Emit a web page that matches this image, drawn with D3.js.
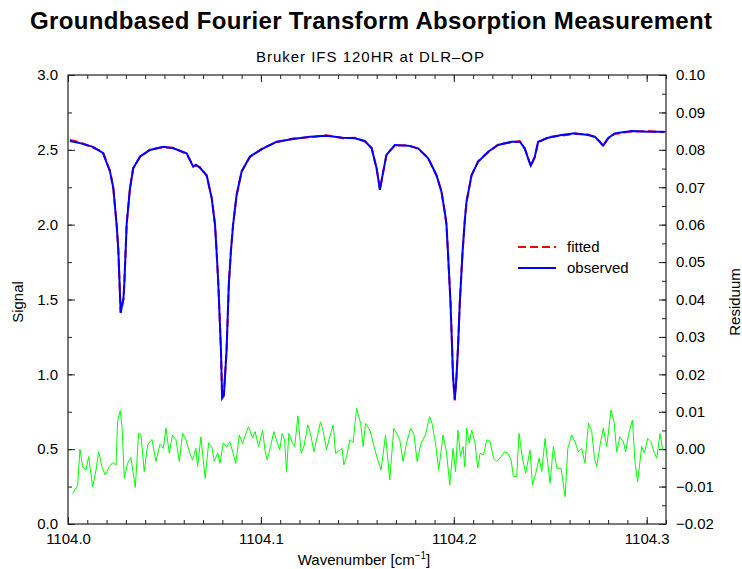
<!DOCTYPE html>
<html>
<head>
<meta charset="utf-8">
<script src="https://cdn.jsdelivr.net/npm/d3@7"></script>
<style>
  body { margin: 0; background: #fff; }
  text { font-family: "Liberation Sans", Arial, Helvetica, sans-serif; fill: #000; }
</style>
</head>
<body>
<svg id="chart"></svg>
<script>
// spectrum: wavenumber grid and the two signal curves
var specWn = [1104.0010, 1104.0062, 1104.0130, 1104.0181, 1104.0218, 1104.0235, 1104.0252, 1104.0261, 1104.0267, 1104.0273,
  1104.0280, 1104.0287, 1104.0292, 1104.0299, 1104.0304, 1104.0321, 1104.0338, 1104.0373, 1104.0425, 1104.0494,
  1104.0546, 1104.0615, 1104.0649, 1104.0663, 1104.0684, 1104.0719, 1104.0745, 1104.0762, 1104.0770, 1104.0779,
  1104.0793, 1104.0799, 1104.0808, 1104.0822, 1104.0834, 1104.0845, 1104.0856, 1104.0874, 1104.0900, 1104.0943,
  1104.1012, 1104.1081, 1104.1167, 1104.1254, 1104.1340, 1104.1426, 1104.1487, 1104.1539, 1104.1574, 1104.1600,
  1104.1617, 1104.1634, 1104.1651, 1104.1694, 1104.1763, 1104.1815, 1104.1867, 1104.1910, 1104.1936, 1104.1953,
  1104.1962, 1104.1970, 1104.1983, 1104.1991, 1104.1996, 1104.2005, 1104.2014, 1104.2022, 1104.2031, 1104.2045,
  1104.2057, 1104.2066, 1104.2092, 1104.2126, 1104.2178, 1104.2230, 1104.2299, 1104.2342, 1104.2368, 1104.2385,
  1104.2399, 1104.2420, 1104.2437, 1104.2489, 1104.2558, 1104.2627, 1104.2696, 1104.2731, 1104.2756, 1104.2774,
  1104.2799, 1104.2834, 1104.2921, 1104.3007, 1104.3093];

var observed = [2.559, 2.545, 2.520, 2.480, 2.354, 2.245, 2.000, 1.830, 1.620, 1.410,
  1.460, 1.497, 1.608, 1.830, 2.000, 2.240, 2.376, 2.455, 2.499, 2.521,
  2.510, 2.477, 2.387, 2.400, 2.380, 2.330, 2.176, 2.000, 1.830, 1.610,
  1.160, 0.840, 0.860, 1.160, 1.610, 1.830, 2.000, 2.198, 2.354, 2.455,
  2.510, 2.554, 2.572, 2.588, 2.594, 2.581, 2.577, 2.559, 2.510, 2.376,
  2.232, 2.354, 2.466, 2.532, 2.528, 2.510, 2.443, 2.332, 2.220, 2.087,
  2.000, 1.810, 1.477, 1.185, 0.985, 0.830, 0.985, 1.185, 1.477, 1.810,
  2.030, 2.153, 2.332, 2.420, 2.487, 2.532, 2.554, 2.554, 2.510, 2.443,
  2.394, 2.455, 2.554, 2.581, 2.599, 2.610, 2.599, 2.588, 2.554, 2.528,
  2.577, 2.610, 2.626, 2.621, 2.621];

var fitted = [2.566, 2.550, 2.514, 2.486, 2.360, 2.240, 2.006, 1.826, 1.615, 1.415,
  1.455, 1.502, 1.603, 1.835, 2.005, 2.236, 2.380, 2.450, 2.503, 2.517,
  2.514, 2.472, 2.392, 2.395, 2.385, 2.325, 2.181, 2.005, 1.826, 1.615,
  1.155, 0.845, 0.856, 1.165, 1.605, 1.835, 2.005, 2.194, 2.358, 2.451,
  2.514, 2.550, 2.576, 2.584, 2.598, 2.577, 2.581, 2.555, 2.514, 2.372,
  2.236, 2.350, 2.470, 2.528, 2.532, 2.506, 2.447, 2.328, 2.224, 2.083,
  2.004, 1.806, 1.481, 1.181, 0.989, 0.826, 0.989, 1.181, 1.481, 1.806,
  2.026, 2.157, 2.328, 2.424, 2.483, 2.536, 2.550, 2.558, 2.506, 2.447,
  2.390, 2.451, 2.550, 2.585, 2.595, 2.606, 2.603, 2.584, 2.558, 2.524,
  2.573, 2.606, 2.622, 2.625, 2.617];

// residuum (fitted - observed)
var residWn = [1104.0024, 1104.0050, 1104.0062, 1104.0076, 1104.0093, 1104.0107, 1104.0128, 1104.0145, 1104.0159, 1104.0176,
  1104.0193, 1104.0214, 1104.0232, 1104.0249, 1104.0257, 1104.0271, 1104.0280, 1104.0292, 1104.0309, 1104.0326,
  1104.0349, 1104.0366, 1104.0378, 1104.0395, 1104.0413, 1104.0435, 1104.0456, 1104.0477, 1104.0494, 1104.0508,
  1104.0525, 1104.0542, 1104.0560, 1104.0577, 1104.0594, 1104.0611, 1104.0632, 1104.0646, 1104.0663, 1104.0672,
  1104.0689, 1104.0711, 1104.0729, 1104.0746, 1104.0758, 1104.0776, 1104.0788, 1104.0805, 1104.0822, 1104.0839,
  1104.0853, 1104.0870, 1104.0888, 1104.0905, 1104.0922, 1104.0936, 1104.0957, 1104.0970, 1104.0988, 1104.1009,
  1104.1022, 1104.1033, 1104.1050, 1104.1067, 1104.1084, 1104.1098, 1104.1110, 1104.1123, 1104.1133, 1104.1145,
  1104.1162, 1104.1175, 1104.1192, 1104.1209, 1104.1223, 1104.1243, 1104.1257, 1104.1275, 1104.1292, 1104.1309,
  1104.1323, 1104.1340, 1104.1357, 1104.1375, 1104.1387, 1104.1404, 1104.1421, 1104.1430, 1104.1444, 1104.1461,
  1104.1478, 1104.1496, 1104.1517, 1104.1530, 1104.1542, 1104.1565, 1104.1582, 1104.1603, 1104.1623, 1104.1646,
  1104.1668, 1104.1689, 1104.1706, 1104.1720, 1104.1737, 1104.1755, 1104.1776, 1104.1793, 1104.1810, 1104.1830,
  1104.1853, 1104.1874, 1104.1887, 1104.1905, 1104.1922, 1104.1944, 1104.1962, 1104.1979, 1104.1996, 1104.2009,
  1104.2021, 1104.2035, 1104.2048, 1104.2057, 1104.2067, 1104.2080, 1104.2093, 1104.2110, 1104.2124, 1104.2136,
  1104.2154, 1104.2171, 1104.2188, 1104.2206, 1104.2223, 1104.2245, 1104.2263, 1104.2280, 1104.2297, 1104.2309,
  1104.2326, 1104.2338, 1104.2356, 1104.2373, 1104.2395, 1104.2408, 1104.2425, 1104.2442, 1104.2456, 1104.2473,
  1104.2487, 1104.2499, 1104.2516, 1104.2534, 1104.2556, 1104.2577, 1104.2591, 1104.2611, 1104.2628, 1104.2646,
  1104.2663, 1104.2680, 1104.2698, 1104.2715, 1104.2729, 1104.2741, 1104.2758, 1104.2775, 1104.2793, 1104.2815,
  1104.2832, 1104.2844, 1104.2861, 1104.2879, 1104.2891, 1104.2905, 1104.2926, 1104.2939, 1104.2953, 1104.2974,
  1104.2988, 1104.3005, 1104.3022, 1104.3040, 1104.3052, 1104.3069, 1104.3083];

var residuum = [-0.0118, -0.0098, 0.0000, -0.0047, -0.0056, -0.0020, -0.0101, -0.0056, -0.0007, -0.0047,
  -0.0069, -0.0047, -0.0036, -0.0042, 0.0073, 0.0103, 0.0060, -0.0078, -0.0038, -0.0022,
  -0.0102, 0.0042, 0.0040, -0.0060, 0.0011, 0.0026, -0.0033, 0.0013, 0.0002, 0.0056,
  -0.0011, 0.0038, 0.0025, -0.0033, 0.0042, 0.0025, -0.0011, -0.0029, 0.0002, -0.0047,
  0.0033, -0.0078, 0.0017, 0.0005, -0.0033, -0.0010, -0.0038, 0.0017, 0.0005, 0.0020,
  -0.0005, -0.0038, 0.0038, 0.0015, 0.0042, 0.0060, 0.0030, 0.0047, 0.0007, 0.0051,
  -0.0007, -0.0029, 0.0007, 0.0047, 0.0020, -0.0002, 0.0042, 0.0025, -0.0060, 0.0042,
  0.0018, 0.0007, 0.0089, -0.0011, 0.0007, 0.0065, 0.0042, -0.0007, 0.0033, 0.0073,
  0.0047, -0.0002, 0.0033, 0.0065, -0.0011, -0.0005, 0.0002, -0.0042, -0.0020, 0.0025,
  0.0018, 0.0109, 0.0069, 0.0007, 0.0069, 0.0051, 0.0016, -0.0024, -0.0056, 0.0038,
  -0.0082, 0.0056, 0.0040, 0.0025, -0.0033, 0.0016, 0.0056, 0.0040, -0.0033, 0.0016,
  0.0038, 0.0087, 0.0069, 0.0016, -0.0056, 0.0038, -0.0007, -0.0096, 0.0002, -0.0060,
  0.0051, -0.0020, 0.0007, -0.0047, 0.0056, 0.0016, 0.0051, 0.0016, -0.0051, -0.0011,
  -0.0015, 0.0025, 0.0020, -0.0024, -0.0033, -0.0020, -0.0007, -0.0011, -0.0029, -0.0073,
  -0.0073, 0.0042, -0.0024, -0.0064, -0.0002, -0.0096, -0.0064, -0.0024, -0.0060, 0.0029,
  -0.0038, -0.0091, 0.0007, -0.0051, -0.0051, -0.0127, 0.0002, 0.0038, 0.0020, -0.0007,
  0.0002, -0.0038, 0.0069, 0.0047, -0.0024, -0.0047, 0.0011, 0.0056, 0.0007, 0.0105,
  0.0069, -0.0007, 0.0033, 0.0020, -0.0007, 0.0038, 0.0078, -0.0033, -0.0087, 0.0007,
  -0.0011, 0.0029, 0.0020, -0.0011, -0.0024, 0.0042, -0.0002];

// axis ticks
var xMajor = [1104.0, 1104.1, 1104.2, 1104.3];
var signalMajor = [0.0, 0.5, 1.0, 1.5, 2.0, 2.5, 3.0];
var residMajor = [-0.02, -0.01, 0.00, 0.01, 0.02, 0.03, 0.04, 0.05, 0.06, 0.07, 0.08, 0.09, 0.10];
var legendNames = ['fitted', 'observed'];

var width = 742, height = 569;
var margin = {top: 75, right: 76, bottom: 45, left: 68};

var svg = d3.select('#chart')
  .attr('width', width)
  .attr('height', height);

var x = d3.scaleLinear().domain([1104.0, 1104.31]).range([margin.left, width - margin.right]);
var ySig = d3.scaleLinear().domain([0, 3]).range([height - margin.bottom, margin.top]);
var yRes = d3.scaleLinear().domain([-0.02, 0.10]).range([height - margin.bottom, margin.top]);

var x0 = margin.left, x1 = width - margin.right;
var y0 = height - margin.bottom, y1 = margin.top;

var minus = function(s) { return s.replace('-', '\u2212'); };

// minor tick positions
var xMinor = d3.range(0, 32).map(function(i) { return 1104.0 + i * 0.01; });
var sigMinor = d3.range(0, 13).map(function(i) { return i * 0.25; });
var resMinor = d3.range(0, 25).map(function(i) { return -0.02 + i * 0.005; });

function axisGroup(axis, tx, ty) {
  var g = svg.append('g')
    .attr('transform', 'translate(' + tx + ',' + ty + ')')
    .call(axis);
  g.select('.domain').remove();
  g.selectAll('line').attr('stroke', '#222');
  g.selectAll('text').attr('font-size', 15).attr('fill', '#000').attr('font-family', null);
  return g;
}

// bottom
axisGroup(d3.axisBottom(x).tickValues(xMinor).tickSize(-4).tickFormat(''), 0, y0);
axisGroup(d3.axisBottom(x).tickValues(xMajor).tickSize(-7).tickPadding(9).tickFormat(d3.format('.1f')), 0, y0);
// top
axisGroup(d3.axisTop(x).tickValues(xMinor).tickSize(-4).tickFormat(''), 0, y1);
axisGroup(d3.axisTop(x).tickValues(xMajor).tickSize(-7).tickFormat(''), 0, y1);
// left
axisGroup(d3.axisLeft(ySig).tickValues(sigMinor).tickSize(-4).tickFormat(''), x0, 0);
axisGroup(d3.axisLeft(ySig).tickValues(signalMajor).tickSize(-7).tickPadding(10).tickFormat(d3.format('.1f')), x0, 0);
// right
axisGroup(d3.axisRight(yRes).tickValues(resMinor).tickSize(-4).tickFormat(''), x1, 0);
axisGroup(d3.axisRight(yRes).tickValues(residMajor).tickSize(-7).tickPadding(10)
  .tickFormat(function(d) { return minus(d3.format('.2f')(d)); }), x1, 0);

// frame
svg.append('rect')
  .attr('x', x0).attr('y', y1)
  .attr('width', x1 - x0).attr('height', y0 - y1)
  .attr('fill', 'none')
  .attr('stroke', '#222')
  .attr('stroke-width', 1.2);

// curves
svg.append('clipPath').attr('id', 'plotclip')
  .append('rect').attr('x', x0).attr('y', y1).attr('width', x1 - x0).attr('height', y0 - y1);

var plot = svg.append('g').attr('clip-path', 'url(#plotclip)');

var specLine = d3.line()
  .x(function(d, i) { return x(specWn[i]); })
  .y(function(d) { return ySig(d); });

var resLine = d3.line()
  .x(function(d, i) { return x(residWn[i]); })
  .y(function(d) { return yRes(d); });

plot.append('path')
  .datum(residuum)
  .attr('d', resLine)
  .attr('fill', 'none')
  .attr('stroke', '#00ff00')
  .attr('stroke-width', 1);

plot.append('path')
  .datum(fitted)
  .attr('d', specLine)
  .attr('fill', 'none')
  .attr('stroke', '#ff0000')
  .attr('stroke-width', 2)
  .attr('stroke-dasharray', '8,4');

plot.append('path')
  .datum(observed)
  .attr('d', specLine)
  .attr('fill', 'none')
  .attr('stroke', '#0000ff')
  .attr('stroke-width', 2);

// legend
var legend = svg.append('g').attr('transform', 'translate(518,247)');
legend.append('line').attr('x1', 0).attr('x2', 38).attr('y1', 0).attr('y2', 0)
  .attr('stroke', '#ff0000').attr('stroke-width', 2).attr('stroke-dasharray', '8,4');
legend.append('line').attr('x1', 0).attr('x2', 38).attr('y1', 21).attr('y2', 21)
  .attr('stroke', '#0000ff').attr('stroke-width', 2);
legend.selectAll('text.leg').data(legendNames).enter()
  .append('text')
  .attr('class', 'leg')
  .attr('x', 49)
  .attr('y', function(d, i) { return 5 + i * 21; })
  .attr('font-size', 15)
  .text(function(d) { return d; });

// titles
svg.append('text')
  .attr('x', 371).attr('y', 29)
  .attr('text-anchor', 'middle')
  .attr('font-size', 24)
  .attr('font-weight', 'bold')
  .attr('textLength', 682)
  .attr('lengthAdjust', 'spacing')
  .text('Groundbased Fourier Transform Absorption Measurement');

svg.append('text')
  .attr('x', 370).attr('y', 62)
  .attr('text-anchor', 'middle')
  .attr('font-size', 15)
  .attr('textLength', 228)
  .attr('lengthAdjust', 'spacing')
  .text('Bruker IFS 120HR at DLR\u2013OP');

var xt = svg.append('text')
  .attr('x', 364).attr('y', 565)
  .attr('text-anchor', 'middle')
  .attr('font-size', 15);
xt.append('tspan').text('Wavenumber [cm');
xt.append('tspan').attr('dy', -6).attr('font-size', 10).text('\u22121');
xt.append('tspan').attr('dy', 6).text(']');

svg.append('text')
  .attr('transform', 'translate(23,302) rotate(-90)')
  .attr('text-anchor', 'middle')
  .attr('font-size', 15)
  .text('Signal');

svg.append('text')
  .attr('transform', 'translate(740,302) rotate(-90)')
  .attr('text-anchor', 'middle')
  .attr('font-size', 15)
  .text('Residuum');
</script>
</body>
</html>
